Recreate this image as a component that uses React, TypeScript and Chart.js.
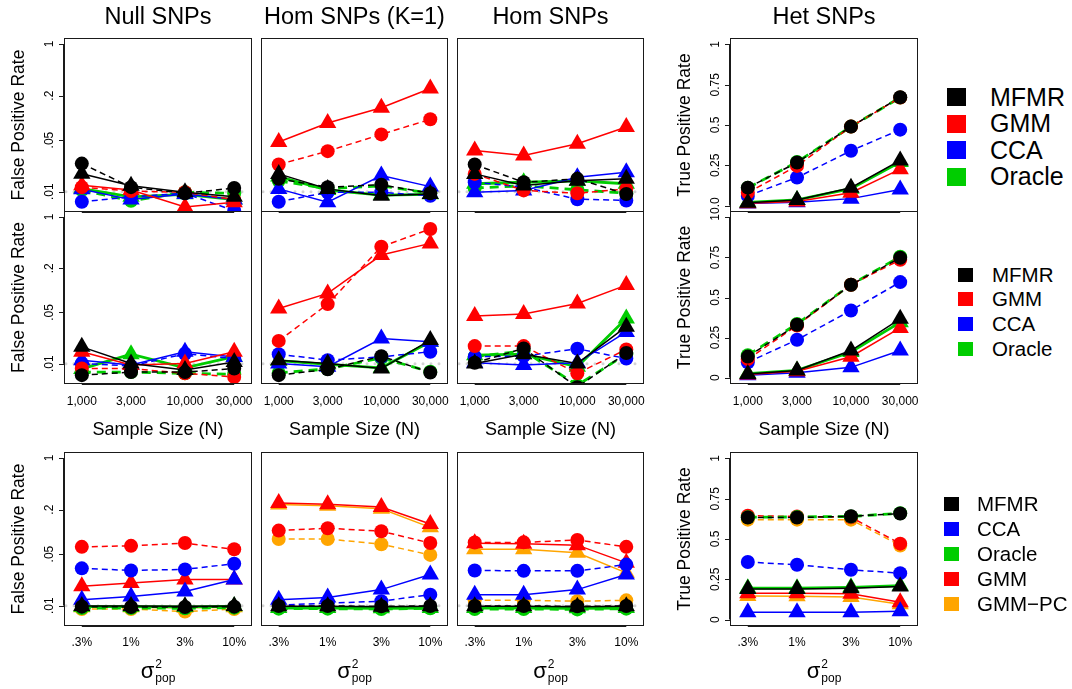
import React, { useEffect, useRef } from "react";
import { Chart, registerables } from "chart.js";
Chart.register(...registerables);

const FONT = '"Liberation Sans", Arial, Helvetica, sans-serif';

// ---------- axes ----------
const sampleSizes = [1000, 3000, 10000, 30000];
const sampleSizeLabels = ["1,000", "3,000", "10,000", "30,000"];
const sigmaPopLabels = [".3%", "1%", "3%", "10%"];
const xRange = [672, 44640];

const fprTicks = [1, 0.2, 0.05, 0.01];
const fprTickLabels = ["1", ".2", ".05", ".01"];
const fprRange = [0.0053, 1.207];
const fprThreshold = 0.01;

const tprTicks = [1, 0.75, 0.5, 0.25, 0];
const tprTickLabelsTop = ["1", "0.75", "0.5", "0.25", "0.0"];
const tprTickLabels = ["1", "0.75", "0.5", "0.25", "0"];
const tprRange = [-0.04, 1.04];

const columnTitles = ["Null SNPs", "Hom SNPs (K=1)", "Hom SNPs", "Het SNPs"];
const methodsMain = ["MFMR", "GMM", "CCA", "Oracle"];
const methodsPop = ["MFMR", "CCA", "Oracle", "GMM", "GMM-PC"];
const methodColors: Record<string, string> = {
  MFMR: "#000000",
  GMM: "#FF0000",
  CCA: "#0000FF",
  Oracle: "#00CD00",
  "GMM-PC": "#FFA500",
};

// ---------- data: each = [solid line + triangles, dashed line + circles] ----------
// Row 1 (vs sample size)
const r1Null_MFMR = [[0.0175, 0.012, 0.0098, 0.0085], [0.024, 0.0115, 0.0095, 0.0112]];
const r1Null_GMM = [[0.0122, 0.0105, 0.0062, 0.0072], [0.0115, 0.0102, 0.0098, 0.0078]];
const r1Null_CCA = [[0.0108, 0.0078, 0.0093, 0.0078], [0.0073, 0.0085, 0.0095, 0.0055]];
const r1Null_Oracle = [[0.011, 0.0085, 0.0092, 0.0078], [0.0105, 0.0075, 0.0098, 0.0095]];

const r1HomK1_MFMR = [[0.0174, 0.0109, 0.0088, 0.0093], [0.0149, 0.0115, 0.0124, 0.0095]];
const r1HomK1_GMM = [[0.047, 0.085, 0.137, 0.25], [0.0233, 0.0354, 0.0597, 0.0955]];
const r1HomK1_CCA = [[0.0109, 0.0072, 0.0165, 0.0117], [0.0073, 0.0098, 0.0098, 0.0088]];
const r1HomK1_Oracle = [[0.016, 0.0105, 0.009, 0.0092], [0.014, 0.011, 0.012, 0.0095]];

const r1Hom_MFMR = [[0.0174, 0.0121, 0.0141, 0.0149], [0.0233, 0.0134, 0.0149, 0.0093]];
const r1Hom_GMM = [[0.036, 0.031, 0.0445, 0.075], [0.0174, 0.0104, 0.0095, 0.0109]];
const r1Hom_CCA = [[0.0098, 0.0104, 0.0157, 0.0183], [0.0134, 0.0115, 0.0079, 0.0076]];
const r1Hom_Oracle = [[0.0128, 0.0134, 0.014, 0.0128], [0.0112, 0.012, 0.0106, 0.0095]];

const r1Het_MFMR = [[0.018, 0.034, 0.111, 0.28], [0.111, 0.267, 0.49, 0.672]];
const r1Het_GMM = [[0.015, 0.025, 0.08, 0.226], [0.08, 0.246, 0.49, 0.67]];
const r1Het_CCA = [[0.012, 0.02, 0.043, 0.1], [0.06, 0.174, 0.34, 0.471]];
const r1Het_Oracle = [[0.02, 0.035, 0.105, 0.27], [0.11, 0.27, 0.49, 0.67]];

// Row 2 (vs sample size)
const r2Null_MFMR = [[0.017, 0.0101, 0.0082, 0.0106], [0.007, 0.0077, 0.0077, 0.0086]];
const r2Null_GMM = [[0.0146, 0.0096, 0.0101, 0.0146], [0.0086, 0.0086, 0.0074, 0.0066]];
const r2Null_CCA = [[0.0112, 0.0096, 0.0146, 0.0124], [0.0101, 0.0093, 0.0137, 0.0118]];
const r2Null_Oracle = [[0.0085, 0.0135, 0.0088, 0.0125], [0.0077, 0.0077, 0.0074, 0.0072]];

const r2HomK1_MFMR = [[0.0112, 0.0101, 0.0086, 0.021], [0.007, 0.0084, 0.0127, 0.0076]];
const r2HomK1_GMM = [[0.0568, 0.091, 0.303, 0.437], [0.0205, 0.065, 0.394, 0.686]];
const r2HomK1_CCA = [[0.0101, 0.0091, 0.0221, 0.02], [0.0135, 0.0112, 0.0124, 0.0146]];
const r2HomK1_Oracle = [[0.011, 0.0098, 0.0088, 0.02], [0.0075, 0.0085, 0.012, 0.0078]];

const r2Hom_MFMR = [[0.0101, 0.0135, 0.0101, 0.032], [0.0103, 0.0162, 0.0048, 0.014]];
const r2Hom_GMM = [[0.0446, 0.0475, 0.0664, 0.118], [0.0174, 0.0174, 0.0074, 0.0157]];
const r2Hom_CCA = [[0.0103, 0.0096, 0.0103, 0.0272], [0.0125, 0.0127, 0.016, 0.0118]];
const r2Hom_Oracle = [[0.0131, 0.0135, 0.0091, 0.0415], [0.0125, 0.015, 0.0051, 0.0135]];

const r2Het_MFMR = [[0.023, 0.044, 0.169, 0.367], [0.131, 0.33, 0.58, 0.748]];
const r2Het_GMM = [[0.02, 0.04, 0.13, 0.31], [0.115, 0.325, 0.58, 0.735]];
const r2Het_CCA = [[0.015, 0.03, 0.064, 0.169], [0.096, 0.236, 0.419, 0.596]];
const r2Het_Oracle = [[0.025, 0.045, 0.16, 0.345], [0.14, 0.335, 0.58, 0.755]];

// Row 3 (vs sigma^2_pop)
const r3Null_MFMR = [[0.0099, 0.0099, 0.0098, 0.0099], [0.0097, 0.0096, 0.0096, 0.0097]];
const r3Null_CCA = [[0.012, 0.0133, 0.0156, 0.0226], [0.032, 0.03, 0.031, 0.037]];
const r3Null_Oracle = [[0.0097, 0.0097, 0.0096, 0.0098], [0.0093, 0.0093, 0.0092, 0.0094]];
const r3Null_GMM = [[0.0183, 0.0203, 0.0226, 0.0226], [0.0626, 0.0646, 0.0705, 0.058]];
const r3Null_GMMPC = [[0.0095, 0.0095, 0.0094, 0.0095], [0.009, 0.009, 0.0083, 0.009]];

const r3HomK1_MFMR = [[0.0098, 0.0098, 0.0097, 0.0098], [0.0099, 0.0099, 0.0098, 0.0099]];
const r3HomK1_CCA = [[0.012, 0.0129, 0.0165, 0.0264], [0.0102, 0.0108, 0.0115, 0.0141]];
const r3HomK1_Oracle = [[0.0093, 0.0093, 0.0092, 0.0093], [0.0091, 0.0091, 0.009, 0.0092]];
const r3HomK1_GMM = [[0.246, 0.236, 0.217, 0.128], [0.104, 0.112, 0.102, 0.0705]];
const r3HomK1_GMMPC = [[0.235, 0.225, 0.205, 0.115], [0.08, 0.08, 0.068, 0.0487]];

const r3Hom_MFMR = [[0.0098, 0.0098, 0.0097, 0.0098], [0.0099, 0.0099, 0.0098, 0.0099]];
const r3Hom_CCA = [[0.0141, 0.014, 0.0165, 0.0264], [0.03, 0.0296, 0.0296, 0.036]];
const r3Hom_Oracle = [[0.0093, 0.0093, 0.0092, 0.0093], [0.009, 0.009, 0.0089, 0.0091]];
const r3Hom_GMM = [[0.07, 0.069, 0.066, 0.038], [0.0718, 0.072, 0.0775, 0.0626]];
const r3Hom_GMMPC = [[0.058, 0.058, 0.052, 0.0278], [0.0118, 0.0118, 0.0115, 0.0118]];

const r3Het_MFMR = [[0.19, 0.19, 0.195, 0.205], [0.633, 0.633, 0.641, 0.658]];
const r3Het_CCA = [[0.046, 0.046, 0.046, 0.052], [0.357, 0.34, 0.309, 0.288]];
const r3Het_Oracle = [[0.195, 0.195, 0.2, 0.21], [0.635, 0.637, 0.64, 0.66]];
const r3Het_GMM = [[0.164, 0.164, 0.16, 0.108], [0.645, 0.64, 0.635, 0.471]];
const r3Het_GMMPC = [[0.146, 0.145, 0.14, 0.095], [0.62, 0.62, 0.62, 0.46]];

// ---------- layout ----------
const colBoxes = [[64, 254], [261, 450], [457, 646], [730, 920]];
const rowBoxes = [[38, 212], [211, 384], [452, 626]];
const ML = 70, MT = 42, MR = 8, MB = 66;

type PanelCfg = {
  row: number;
  col: number;
  series: { method: string; values: number[][] }[];
};

const panelData: number[][][][][] = [
  [
    [r1Null_MFMR, r1Null_GMM, r1Null_CCA, r1Null_Oracle],
    [r1HomK1_MFMR, r1HomK1_GMM, r1HomK1_CCA, r1HomK1_Oracle],
    [r1Hom_MFMR, r1Hom_GMM, r1Hom_CCA, r1Hom_Oracle],
    [r1Het_MFMR, r1Het_GMM, r1Het_CCA, r1Het_Oracle],
  ],
  [
    [r2Null_MFMR, r2Null_GMM, r2Null_CCA, r2Null_Oracle],
    [r2HomK1_MFMR, r2HomK1_GMM, r2HomK1_CCA, r2HomK1_Oracle],
    [r2Hom_MFMR, r2Hom_GMM, r2Hom_CCA, r2Hom_Oracle],
    [r2Het_MFMR, r2Het_GMM, r2Het_CCA, r2Het_Oracle],
  ],
  [
    [r3Null_MFMR, r3Null_CCA, r3Null_Oracle, r3Null_GMM, r3Null_GMMPC],
    [r3HomK1_MFMR, r3HomK1_CCA, r3HomK1_Oracle, r3HomK1_GMM, r3HomK1_GMMPC],
    [r3Hom_MFMR, r3Hom_CCA, r3Hom_Oracle, r3Hom_GMM, r3Hom_GMMPC],
    [r3Het_MFMR, r3Het_CCA, r3Het_Oracle, r3Het_GMM, r3Het_GMMPC],
  ],
];

const panels: PanelCfg[] = [];
for (let r = 0; r < 3; r++) {
  for (let c = 0; c < 4; c++) {
    const methods = r === 2 ? methodsPop : methodsMain;
    panels.push({
      row: r,
      col: c,
      series: methods.map((m, i) => ({ method: m, values: panelData[r][c][i] })),
    });
  }
}

function makeDecor(cfg: PanelCfg) {
  const isTpr = cfg.col === 3;
  return {
    id: "decor",
    beforeDatasetsDraw(chart: any) {
      if (isTpr) return;
      const { ctx, chartArea: a } = chart;
      const y = chart.scales.y.getPixelForValue(fprThreshold);
      ctx.save();
      ctx.strokeStyle = "#d3d3d3";
      ctx.lineWidth = 3;
      ctx.lineCap = "round";
      ctx.setLineDash([0, 8]);
      ctx.beginPath();
      ctx.moveTo(a.left + 2, y);
      ctx.lineTo(a.right - 2, y);
      ctx.stroke();
      ctx.restore();
    },
    afterDraw(chart: any) {
      const { ctx, chartArea: a } = chart;
      const xs = chart.scales.x;
      const ys = chart.scales.y;
      ctx.save();
      ctx.fillStyle = "#000";
      ctx.strokeStyle = "#1a1a1a";
      ctx.lineWidth = 1;
      // box
      ctx.strokeRect(a.left + 0.5, a.top + 0.5, a.right - a.left - 1, a.bottom - a.top - 1);
      // x axis line
      const x0 = xs.getPixelForValue(sampleSizes[0]);
      const x1 = xs.getPixelForValue(sampleSizes[sampleSizes.length - 1]);
      ctx.beginPath();
      ctx.moveTo(x0, a.bottom + 0.5);
      ctx.lineTo(x1, a.bottom + 0.5);
      ctx.stroke();

      // y axis for first and last column
      if (cfg.col === 0 || cfg.col === 3) {
        const ticks = isTpr ? tprTicks : fprTicks;
        const labels = isTpr ? (cfg.row === 0 ? tprTickLabelsTop : tprTickLabels) : fprTickLabels;
        const yTop = ys.getPixelForValue(ticks[0]);
        const yBot = ys.getPixelForValue(ticks[ticks.length - 1]);
        ctx.beginPath();
        ctx.moveTo(a.left - 0.5, yTop);
        ctx.lineTo(a.left - 0.5, yBot);
        ctx.stroke();
        ctx.font = `12px ${FONT}`;
        ctx.textAlign = "center";
        ctx.textBaseline = "middle";
        ticks.forEach((v, i) => {
          const py = ys.getPixelForValue(v);
          ctx.beginPath();
          ctx.moveTo(a.left, Math.round(py) + 0.5);
          ctx.lineTo(a.left - 5, Math.round(py) + 0.5);
          ctx.stroke();
          ctx.save();
          ctx.translate(a.left - 14.5, py);
          ctx.rotate(-Math.PI / 2);
          ctx.fillText(labels[i], 0, 0);
          ctx.restore();
        });
        // y title
        ctx.save();
        ctx.font = `17.5px ${FONT}`;
        ctx.translate(a.left - 45, (a.top + a.bottom) / 2);
        ctx.rotate(-Math.PI / 2);
        ctx.fillText(isTpr ? "True Positive Rate" : "False Positive Rate", 0, 0);
        ctx.restore();
      }

      // column title
      if (cfg.row === 0) {
        ctx.font = `23.5px ${FONT}`;
        ctx.textAlign = "center";
        ctx.textBaseline = "middle";
        ctx.fillText(columnTitles[cfg.col], (a.left + a.right) / 2, a.top - 20.5);
      }

      // x tick labels and titles
      if (cfg.row >= 1) {
        const labels = cfg.row === 1 ? sampleSizeLabels : sigmaPopLabels;
        ctx.font = `12px ${FONT}`;
        ctx.textAlign = "center";
        ctx.textBaseline = "middle";
        sampleSizes.forEach((v, i) => {
          ctx.fillText(labels[i], xs.getPixelForValue(v), a.bottom + (cfg.row === 1 ? 18 : 16.5));
        });
        const cx = (a.left + a.right) / 2;
        if (cfg.row === 1) {
          ctx.font = `18px ${FONT}`;
          ctx.fillText("Sample Size (N)", cx, a.bottom + 46);
        } else {
          ctx.textBaseline = "alphabetic";
          ctx.textAlign = "left";
          ctx.font = `22px ${FONT}`;
          const wS = ctx.measureText("σ").width;
          ctx.font = `12px ${FONT}`;
          const wSup = ctx.measureText("2").width;
          const wSub = ctx.measureText("pop").width;
          const total = wS + Math.max(wSup, wSub) + 1;
          const sx = cx - total / 2;
          ctx.font = `22px ${FONT}`;
          ctx.fillText("σ", sx, a.bottom + 52);
          ctx.font = `12px ${FONT}`;
          ctx.fillText("2", sx + wS + 1, a.bottom + 42);
          ctx.fillText("pop", sx + wS + 1, a.bottom + 55.5);
        }
      }
      ctx.restore();
    },
  };
}

function buildDatasets(cfg: PanelCfg) {
  const ds: any[] = [];
  cfg.series.forEach((s) => {
    const color = methodColors[s.method];
    const oracle = s.method === "Oracle";
    const lw = oracle ? 2.8 : 1.5;
    ds.push({
      label: s.method + " (circles)",
      data: sampleSizes.map((x, i) => ({ x, y: s.values[1][i] })),
      borderColor: color,
      backgroundColor: color,
      borderWidth: lw,
      borderDash: oracle ? [9, 6] : [6, 4],
      pointStyle: "circle",
      pointRadius: 7,
      pointBorderWidth: 0,
      pointBackgroundColor: color,
      tension: 0,
      clip: 0,
    });
    ds.push({
      label: s.method + " (triangles)",
      data: sampleSizes.map((x, i) => ({ x, y: s.values[0][i] })),
      borderColor: color,
      backgroundColor: color,
      borderWidth: lw,
      borderDash: [],
      pointStyle: "triangle",
      pointRadius: 10,
      pointBorderWidth: 0,
      pointBackgroundColor: color,
      tension: 0,
      clip: 0,
    });
  });
  return ds;
}

function Panel({ cfg }: { cfg: PanelCfg }) {
  const ref = useRef<HTMLCanvasElement>(null);
  const [bl, br] = colBoxes[cfg.col];
  const [bt, bb] = rowBoxes[cfg.row];
  const w = br - bl + ML + MR;
  const h = bb - bt + MT + MB;
  useEffect(() => {
    const isTpr = cfg.col === 3;
    const chart = new Chart(ref.current as HTMLCanvasElement, {
      type: "line",
      data: { datasets: buildDatasets(cfg) },
      options: {
        animation: false,
        responsive: false,
        maintainAspectRatio: false,
        devicePixelRatio: 1,
        events: [],
        layout: { padding: { left: ML, top: MT, right: MR, bottom: MB } },
        plugins: { legend: { display: false }, tooltip: { enabled: false } },
        scales: {
          x: { type: "logarithmic", display: false, min: xRange[0], max: xRange[1], bounds: "data" } as any,
          y: isTpr
            ? ({ type: "linear", display: false, min: tprRange[0], max: tprRange[1], bounds: "data" } as any)
            : ({ type: "logarithmic", display: false, min: fprRange[0], max: fprRange[1], bounds: "data" } as any),
        },
      },
      plugins: [makeDecor(cfg) as any],
    });
    return () => chart.destroy();
  }, []);
  return (
    <canvas
      ref={ref}
      width={w}
      height={h}
      style={{ position: "absolute", left: bl - ML, top: bt - MT, width: w, height: h }}
    />
  );
}

type LegendCfg = {
  labels: string[];
  squareLeft: number;
  squareW: number;
  squareH: number;
  firstCenter: number;
  step: number;
  textLeft: number;
  fontSize: number;
};

const legends: LegendCfg[] = [
  { labels: methodsMain, squareLeft: 947, squareW: 19, squareH: 18, firstCenter: 97, step: 26.6, textLeft: 990, fontSize: 25 },
  { labels: methodsMain, squareLeft: 958, squareW: 15, squareH: 14, firstCenter: 274.5, step: 24.7, textLeft: 992, fontSize: 20.5 },
  { labels: methodsPop, squareLeft: 944, squareW: 15, squareH: 14, firstCenter: 504, step: 24.9, textLeft: 977, fontSize: 20.5 },
];

function Legend({ cfg }: { cfg: LegendCfg }) {
  return (
    <>
      {cfg.labels.map((m, i) => {
        const cy = cfg.firstCenter + i * cfg.step;
        return (
          <React.Fragment key={m}>
            <div
              style={{
                position: "absolute",
                left: cfg.squareLeft,
                top: cy - cfg.squareH / 2,
                width: cfg.squareW,
                height: cfg.squareH,
                background: methodColors[m],
              }}
            />
            <div
              style={{
                position: "absolute",
                left: cfg.textLeft,
                top: cy - 20,
                height: 40,
                display: "flex",
                alignItems: "center",
                fontSize: cfg.fontSize,
                fontFamily: FONT,
                color: "#000",
                whiteSpace: "nowrap",
              }}
            >
              {m.replace("-", "\u2212")}
            </div>
          </React.Fragment>
        );
      })}
    </>
  );
}

export default function App() {
  return (
    <div
      style={{
        position: "fixed",
        left: 0,
        top: 0,
        width: 1072,
        height: 689,
        background: "#fff",
        overflow: "hidden",
        fontFamily: FONT,
      }}
    >
      {panels.map((p) => (
        <Panel key={`${p.row}-${p.col}`} cfg={p} />
      ))}
      {legends.map((l, i) => (
        <Legend key={i} cfg={l} />
      ))}
    </div>
  );
}
